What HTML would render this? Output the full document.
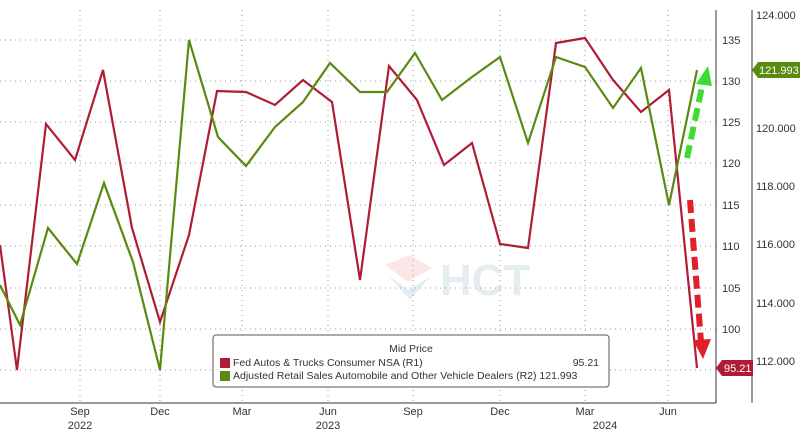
<!DOCTYPE html>
<html><head><meta charset="utf-8"><style>
body{margin:0;background:#fff;}
svg{display:block;font-family:"Liberation Sans",sans-serif;}
</style></head><body>
<svg width="800" height="435" viewBox="0 0 800 435" xmlns="http://www.w3.org/2000/svg">
<rect width="800" height="435" fill="#fff"/>
<g stroke="#999" stroke-width="1" stroke-dasharray="1,4">
<line x1="0" y1="40" x2="716" y2="40"/><line x1="0" y1="81" x2="716" y2="81"/>
<line x1="0" y1="122" x2="716" y2="122"/><line x1="0" y1="163" x2="716" y2="163"/>
<line x1="0" y1="205" x2="716" y2="205"/><line x1="0" y1="246" x2="716" y2="246"/>
<line x1="0" y1="288" x2="716" y2="288"/><line x1="0" y1="329" x2="716" y2="329"/>
<line x1="0" y1="370" x2="716" y2="370"/>
<line x1="80" y1="10" x2="80" y2="403"/><line x1="160" y1="10" x2="160" y2="403"/>
<line x1="242" y1="10" x2="242" y2="403"/><line x1="328" y1="10" x2="328" y2="403"/>
<line x1="413" y1="10" x2="413" y2="403"/><line x1="500" y1="10" x2="500" y2="403"/>
<line x1="585" y1="10" x2="585" y2="403"/><line x1="668" y1="10" x2="668" y2="403"/>
</g>
<g opacity="0.2">
<polygon points="385,265 410,255 432,268 408,282" fill="#e88"/>
<polygon points="388,275 410,300 430,277 408,290" fill="#7ab"/>
<text x="440" y="295" font-size="44" font-weight="bold" fill="#8ab">HCT</text>
</g>
<polyline fill="none" stroke="#b01c35" stroke-width="2.2" points="0,245 17,370 46,124 75,160 103,70 132,228 160,322 189,235 217,91 246,92 275,105 303,80 332,102 360,280 389,66 417,100 444,165 472,143 500,244 528,248 556,43 585,38 613,80 641,112 669,90 697,368"/>
<polyline fill="none" stroke="#5a8a10" stroke-width="2.2" points="0,285 20,325 48,228 77,264 104,183 133,262 160,370 189,40 218,137 246,166 275,127 303,102 330,63 360,92 387,92 415,53 442,100 472,77 500,57 528,143 556,57 585,67 613,108 641,68 669,205 697,70"/>
<line x1="687" y1="158" x2="703" y2="82" stroke="#3ddc30" stroke-width="6" stroke-dasharray="13,6"/>
<polygon points="696,84 712,86 708,66" fill="#3ddc30"/>
<line x1="690" y1="200" x2="701" y2="342" stroke="#e0202a" stroke-width="6" stroke-dasharray="13,6"/>
<polygon points="693,340 711,339 703,359" fill="#e0202a"/>
<line x1="716" y1="10" x2="716" y2="403" stroke="#333"/>
<line x1="752" y1="10" x2="752" y2="403" stroke="#333"/>
<line x1="0" y1="403" x2="716" y2="403" stroke="#333"/>
<g font-size="11" fill="#333">
<text x="722" y="44">135</text><text x="722" y="85">130</text><text x="722" y="126">125</text>
<text x="722" y="167">120</text><text x="722" y="209">115</text><text x="722" y="250">110</text>
<text x="722" y="292">105</text><text x="722" y="333">100</text>
<text x="756" y="19">124.000</text><text x="756" y="132">120.000</text><text x="756" y="190">118.000</text>
<text x="756" y="248">116.000</text><text x="756" y="307">114.000</text><text x="756" y="365">112.000</text>
<text x="80" y="415" text-anchor="middle">Sep</text><text x="160" y="415" text-anchor="middle">Dec</text>
<text x="242" y="415" text-anchor="middle">Mar</text><text x="328" y="415" text-anchor="middle">Jun</text>
<text x="413" y="415" text-anchor="middle">Sep</text><text x="500" y="415" text-anchor="middle">Dec</text>
<text x="585" y="415" text-anchor="middle">Mar</text><text x="668" y="415" text-anchor="middle">Jun</text>
<text x="80" y="429" text-anchor="middle">2022</text><text x="328" y="429" text-anchor="middle">2023</text>
<text x="605" y="429" text-anchor="middle">2024</text>
</g>
<polygon points="716,368 722,360 753,360 753,376 722,376" fill="#b01c35"/>
<text x="724" y="372" font-size="11" fill="#fff">95.21</text>
<polygon points="752,70 758,62 800,62 800,78 758,78" fill="#5a8a10"/>
<text x="759" y="74" font-size="11" fill="#fff">121.993</text>
<rect x="213" y="335" width="396" height="52" rx="3" fill="#fff" stroke="#555"/>
<g font-size="10.5" fill="#333">
<text x="411" y="352" text-anchor="middle">Mid Price</text>
<rect x="220" y="358" width="10" height="10" fill="#b01c35"/>
<text x="233" y="366">Fed Autos &amp; Trucks Consumer NSA  (R1)</text>
<text x="599" y="366" text-anchor="end">95.21</text>
<rect x="220" y="371" width="10" height="10" fill="#5a8a10"/>
<text x="233" y="379">Adjusted Retail Sales Automobile and Other Vehicle Dealers  (R2) 121.993</text>
</g>
</svg>
</body></html>
